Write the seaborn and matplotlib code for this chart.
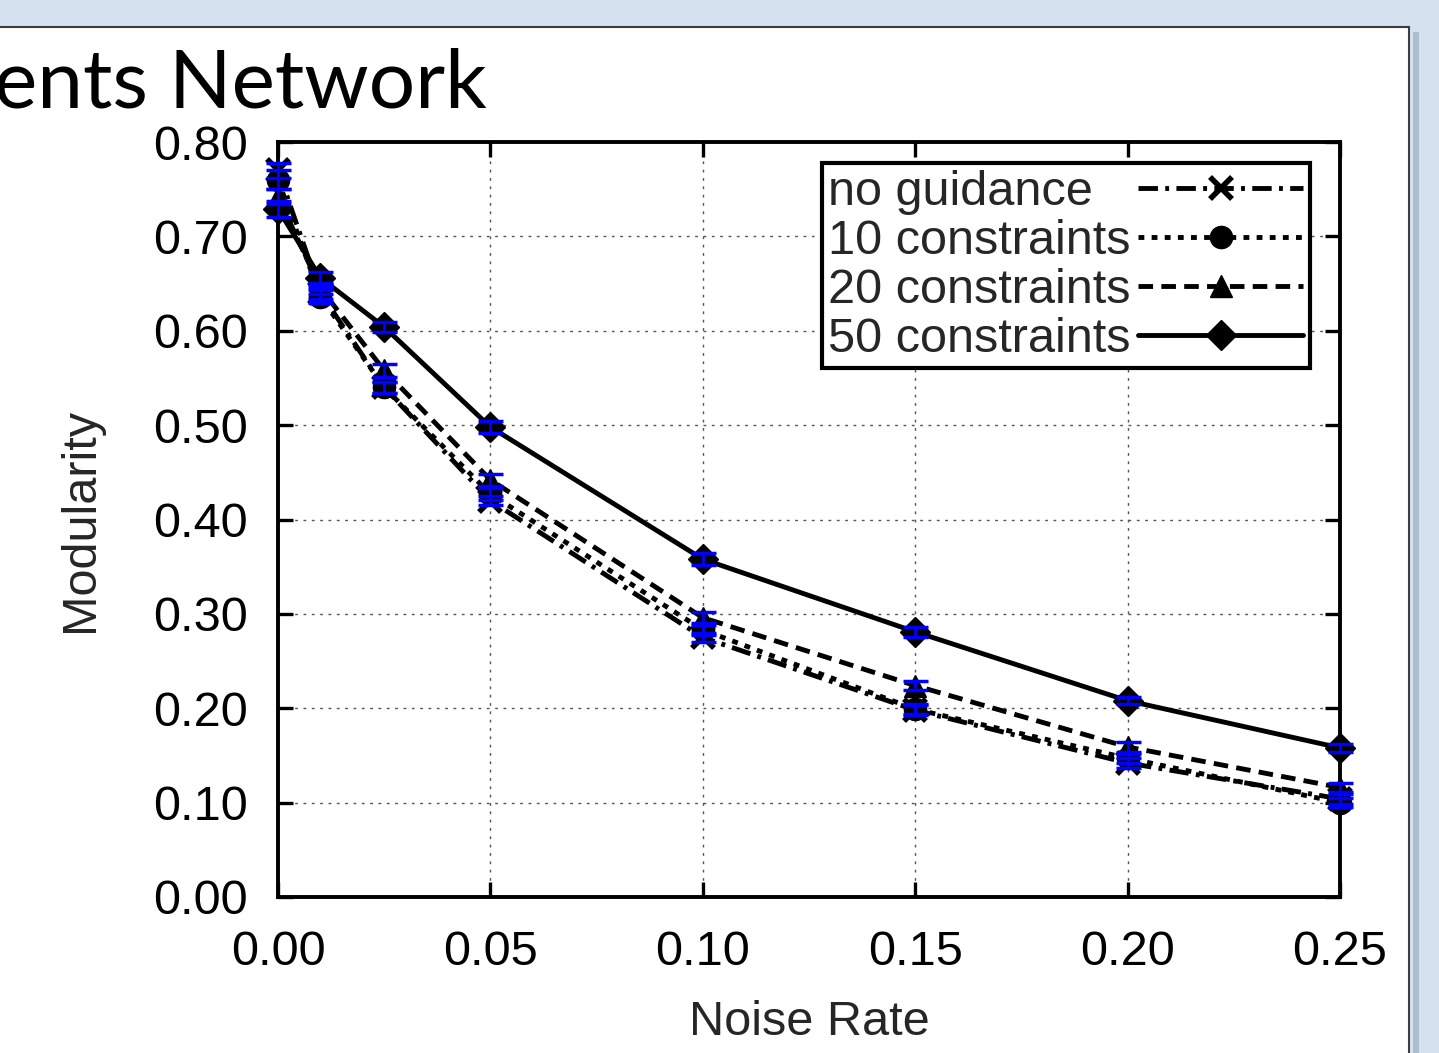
import numpy as np
import pandas as pd
import matplotlib
matplotlib.use("Agg")
import matplotlib.pyplot as plt
from matplotlib.patches import Rectangle
import seaborn as sns

# Data
noise_rate = [0.0, 0.01, 0.025, 0.05, 0.10, 0.15, 0.20, 0.25]
series_names = ["no guidance", "10 constraints", "20 constraints", "50 constraints"]

no_guidance = [0.770, 0.640, 0.540, 0.420, 0.275, 0.198, 0.142, 0.104]
c10 = [0.760, 0.636, 0.540, 0.427, 0.283, 0.199, 0.147, 0.100]
c20 = [0.742, 0.645, 0.558, 0.442, 0.296, 0.224, 0.159, 0.116]
c50 = [0.729, 0.656, 0.604, 0.498, 0.358, 0.281, 0.208, 0.158]

err_no_guidance = [0.008, 0.006, 0.006, 0.005, 0.005, 0.005, 0.005, 0.005]
err_c10 = [0.010, 0.007, 0.006, 0.006, 0.005, 0.005, 0.005, 0.005]
err_c20 = [0.008, 0.006, 0.007, 0.006, 0.006, 0.005, 0.005, 0.005]
err_c50 = [0.008, 0.006, 0.005, 0.006, 0.006, 0.005, 0.004, 0.004]

values = [no_guidance, c10, c20, c50]
errors = [err_no_guidance, err_c10, err_c20, err_c50]

x_ticks = [0.0, 0.05, 0.10, 0.15, 0.20, 0.25]
y_ticks = [0.0, 0.1, 0.2, 0.3, 0.4, 0.5, 0.6, 0.7, 0.8]

styles = {
    "no guidance": dict(marker="x", linestyle=(0, (4, 1.5, 0.8, 1.5)), markersize=16),
    "10 constraints": dict(marker="o", linestyle=(0, (1.2, 1.5)), markersize=16),
    "20 constraints": dict(marker="^", linestyle=(0, (3.0, 1.7)), markersize=16),
    "50 constraints": dict(marker="D", linestyle="-", markersize=15),
}

sns.set_theme(style="white")
plt.rcParams["font.family"] = ["Liberation Sans", "DejaVu Sans"]

fig = plt.figure(figsize=(14.39, 10.53), dpi=100)
fig.patch.set_facecolor("#d4e2ef")

# slide panel behind the chart
fig.patches.append(Rectangle((1413 / 1439, -0.01), 0.004, 0.98, transform=fig.transFigure,
                             facecolor="#aebdcb", edgecolor="none", zorder=-2))
fig.patches.append(Rectangle((-0.01, -0.01), 1409 / 1439 + 0.01, 1 - 27 / 1053 + 0.01,
                             transform=fig.transFigure, facecolor="white",
                             edgecolor="#3c3c3c", linewidth=1.5, zorder=-1))

fig.text(-0.004, 1 - 108 / 1053, "ents Network", fontsize=59, family=["Lato", "DejaVu Sans"],
         ha="left", va="baseline", color="black")

ax = fig.add_axes([278 / 1439, 1 - 897 / 1053, (1340 - 278) / 1439, (897 - 142) / 1053])
ax.set_facecolor("white")

for name, vals in zip(series_names, values):
    df = pd.DataFrame({"noise": noise_rate, "modularity": vals})
    st = styles[name]
    sns.lineplot(data=df, x="noise", y="modularity", ax=ax, color="black",
                 linewidth=3.5, errorbar=None, label=name,
                 marker=st["marker"], linestyle=st["linestyle"],
                 markersize=st["markersize"], markeredgecolor="black",
                 markeredgewidth=4 if st["marker"] == "x" else 1, zorder=3,
                 clip_on=False)

for vals, errs in zip(values, errors):
    eb = ax.errorbar(noise_rate, vals, yerr=errs, fmt="none", ecolor="blue",
                     elinewidth=2, capsize=9, capthick=2.5, zorder=4)
    for art in eb.lines[1] + eb.lines[2]:
        art.set_clip_on(False)

ax.set_xlim(0, 0.25)
ax.set_ylim(0, 0.8)
ax.set_xticks(x_ticks)
ax.set_yticks(y_ticks)
ax.set_xticklabels([f"{v:.2f}" for v in x_ticks])
ax.set_yticklabels([f"{v:.2f}" for v in y_ticks])
ax.tick_params(axis="both", direction="in", length=11, width=2.4, labelsize=35,
               top=True, right=True, bottom=True, left=True, pad=22, colors="black")
ax.tick_params(axis="x", pad=24)
ax.grid(True, color="#555555", linestyle=(0, (2, 4)), linewidth=1.0)
for sp in ax.spines.values():
    sp.set_linewidth(2.8)
    sp.set_color("black")

ax.set_xlabel("Noise Rate", fontsize=35, labelpad=18)
ax.set_ylabel("Modularity", fontsize=35, labelpad=36)

handles, labels = ax.get_legend_handles_labels()
leg = ax.legend(handles, labels, loc="upper right", bbox_to_anchor=(0.972, 0.972),
                borderaxespad=0, markerfirst=False, fontsize=35, frameon=True,
                fancybox=False, framealpha=1, edgecolor="black", borderpad=0.14,
                labelspacing=0.08, handlelength=3.4, handletextpad=0.15)
leg.get_frame().set_linewidth(3)
leg.set_zorder(5)

# keep label text left-aligned with the line samples lined up on the right
renderer = fig.canvas.get_renderer()
widths = [t.get_window_extent(renderer).width for t in leg.get_texts()]
base_sep = 0.15 * 35
for column in leg._legend_handle_box.get_children():
    for row in column.get_children():
        txt = row.get_children()[0].get_children()[0]
        w = txt.get_window_extent(renderer).width
        row.sep = base_sep + (max(widths) - w) * 72 / fig.dpi

fig.savefig("out.png", dpi=100, facecolor=fig.get_facecolor())
